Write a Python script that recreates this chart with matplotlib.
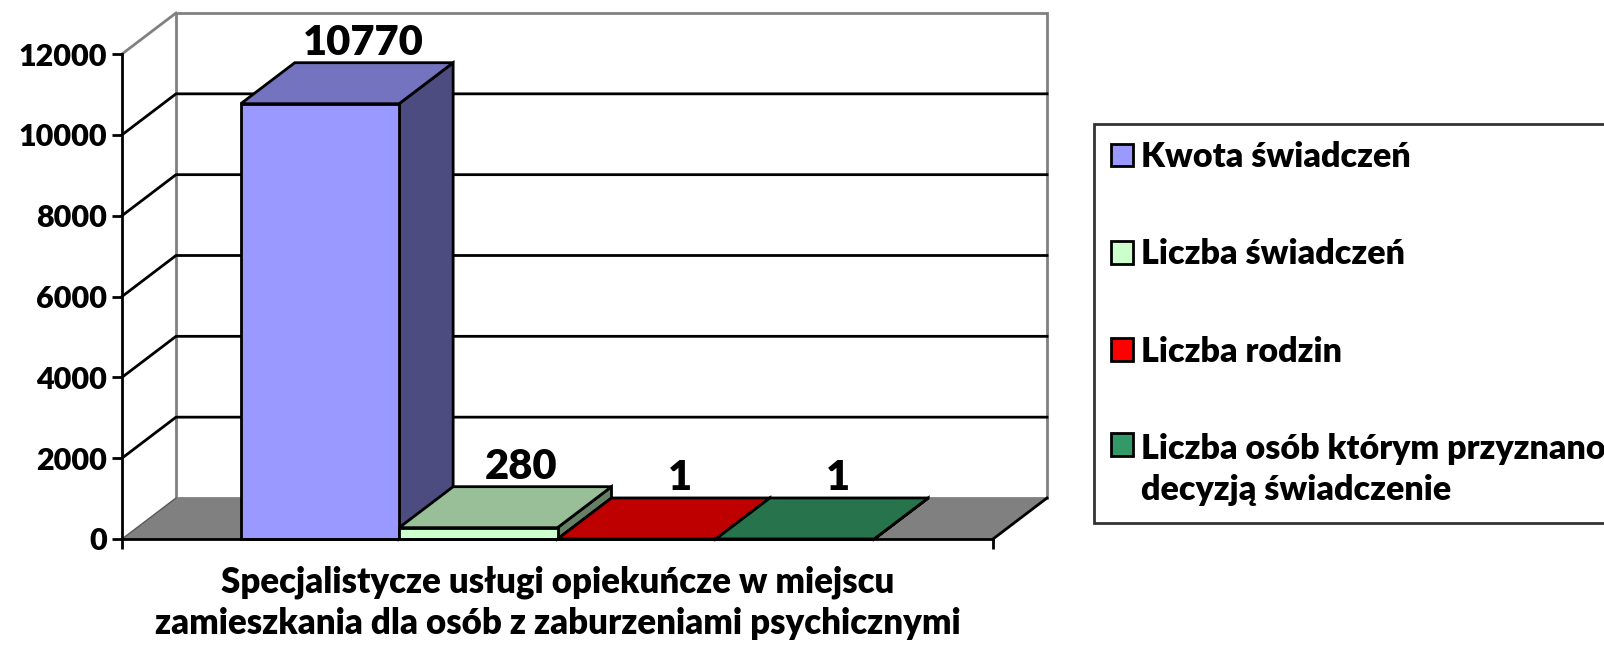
"""3D-style clustered bar chart: specialist care services (single category, four series)."""

import matplotlib

matplotlib.use("Agg")

import matplotlib.pyplot as plt  # noqa: E402
from matplotlib.patches import Polygon, Rectangle  # noqa: E402

plt.rcParams["font.family"] = ["Lato", "DejaVu Sans"]
plt.rcParams["font.weight"] = "heavy"

# ---- data -------------------------------------------------------------
category = "Specjalistycze usługi opiekuńcze w miejscu\nzamieszkania dla osób z zaburzeniami psychicznymi"
series = [
    "Kwota świadczeń",
    "Liczba świadczeń",
    "Liczba rodzin",
    "Liczba osób którym przyznano\ndecyzją świadczenie",
]
values = [10770, 280, 1, 1]
yticks = [0, 2000, 4000, 6000, 8000, 10000, 12000]

# front / top / side shades for each series
front_colors = ["#9999FF", "#CCFFCC", "#FF0000", "#339966"]
top_colors = ["#7373BF", "#99BF99", "#BF0000", "#26734C"]
side_colors = ["#4C4C80", "#668066", "#800000", "#1A4D33"]

# ---- layout -----------------------------------------------------------
W, H, DPI = 1604, 648, 100
fig = plt.figure(figsize=(W / DPI, H / DPI), dpi=DPI)
ax = fig.add_axes([122 / W, 1 - 539 / H, (993 - 122) / W, (539 - 54) / H])

ymax = yticks[-1]
ax.set_xlim(-0.5, 0.5)
ax.set_ylim(0, ymax)

# oblique depth, expressed in data units
dx = 54 / 871 * 1.0
dy = 41 / 485 * ymax

wall_edge = "#808080"
lw = 2

# side wall and back wall
left_wall = Polygon([(-0.5, 0), (-0.5 + dx, dy), (-0.5 + dx, ymax + dy), (-0.5, ymax)],
                    closed=True, facecolor="white", edgecolor="none", clip_on=False, zorder=1)
back_wall = Rectangle((-0.5 + dx, dy), 1.0, ymax, facecolor="white", edgecolor=wall_edge,
                      linewidth=lw, clip_on=False, zorder=1)
ax.add_patch(left_wall)
ax.add_patch(back_wall)
ax.plot([-0.5, -0.5 + dx], [ymax, ymax + dy], color=wall_edge, lw=lw, clip_on=False, zorder=1)

# gridlines on side and back walls
for v in yticks[1:-1]:
    ax.plot([-0.5, -0.5 + dx, 0.5 + dx], [v, v + dy, v + dy], color="black", lw=lw,
            clip_on=False, zorder=2)

# floor
floor = Polygon([(-0.5, 0), (0.5, 0), (0.5 + dx, dy), (-0.5 + dx, dy)], closed=True,
                facecolor="#808080", edgecolor="none", clip_on=False, zorder=3)
ax.add_patch(floor)
ax.plot([-0.5, -0.5 + dx], [0, dy], color="#5a5a5a", lw=1, clip_on=False, zorder=3)
ax.plot([0.5, 0.5 + dx], [0, dy], color="black", lw=lw, clip_on=False, zorder=3)

# bars: gap of 0.75 bar width each side of the cluster
n = len(values)
w = 1.0 / (n + 1.5)
lefts = [-0.5 + 0.75 * w + i * w for i in range(n)]

handles = []
for i, (x0, v) in enumerate(zip(lefts, values)):
    z = 4 + i
    side = Polygon([(x0 + w, 0), (x0 + w + dx, dy), (x0 + w + dx, v + dy), (x0 + w, v)],
                   closed=True, facecolor=side_colors[i], edgecolor="black", lw=lw,
                   clip_on=False, zorder=z)
    top = Polygon([(x0, v), (x0 + w, v), (x0 + w + dx, v + dy), (x0 + dx, v + dy)],
                  closed=True, facecolor=top_colors[i], edgecolor="black", lw=lw,
                  clip_on=False, zorder=z)
    ax.add_patch(side)
    ax.add_patch(top)
    bars = ax.bar(x0, v, width=w, align="edge", color=front_colors[i], edgecolor="black",
                  linewidth=lw, zorder=z, clip_on=False, label=series[i])
    handles.append(bars[0])
    ax.annotate(f"{v}", (x0 + w / 2 + 0.8 * dx, v + dy), xytext=(0, 8),
                textcoords="offset pixels", ha="center", va="baseline",
                fontsize=30, zorder=20, annotation_clip=False)

# axes styling
for s in ("top", "right"):
    ax.spines[s].set_visible(False)
ax.spines["left"].set_linewidth(lw)
ax.spines["bottom"].set_linewidth(lw)
ax.spines["left"].set_zorder(10)
ax.spines["bottom"].set_zorder(10)
ax.set_facecolor("none")

ax.set_yticks(yticks)
ax.set_yticklabels([str(t) for t in yticks])
ax.tick_params(axis="y", direction="out", length=7, width=lw, labelsize=22, pad=4)

ax.set_xticks([-0.5, 0.5])
ax.set_xticklabels(["", ""])
ax.tick_params(axis="x", which="major", direction="out", length=7, width=lw)
ax.set_xticks([0], minor=True)
ax.set_xticklabels([category], minor=True, fontsize=25, linespacing=1.3)
ax.tick_params(axis="x", which="minor", length=0, pad=19)

leg = fig.legend(handles=handles, labels=series, loc="upper left",
                 bbox_to_anchor=(1094 / W, 1 - 124 / H), bbox_transform=fig.transFigure,
                 borderaxespad=0, fontsize=24.5, frameon=True, fancybox=False,
                 edgecolor="black", handlelength=0.65, handleheight=0.65,
                 handletextpad=0.22, labelspacing=1.92, borderpad=0.5)
leg.get_frame().set_linewidth(lw)
leg.get_texts()[-1].set_linespacing(1.35)
# keep the square of the two-line entry level with its first line
leg._legend_handle_box.get_children()[0].get_children()[-1].align = "top"

fig.savefig("out.png", dpi=DPI)
